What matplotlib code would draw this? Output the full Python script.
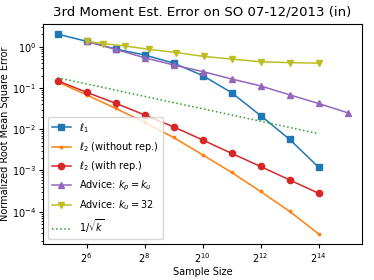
import numpy as np
import matplotlib
matplotlib.use("Agg")
import matplotlib.pyplot as plt

# sample sizes
k_pow = [2**j for j in range(5, 15)]            # 2^5 .. 2^14
k_pow6 = [2**j for j in range(6, 16)]           # 2^6 .. 2^15
k_u32 = [32 + 2**j for j in range(5, 15)]       # 32 + 2^j

err_l1 = [2.02, 1.35, 0.88, 0.63, 0.40, 0.20, 0.077, 0.0214, 0.0057, 0.0012]
err_l2_norep = [0.14, 0.068, 0.032, 0.0147, 0.0063, 0.0024, 0.00090, 0.00031, 0.000102, 0.000029]
err_l2_rep = [0.15, 0.0785, 0.0426, 0.0222, 0.0114, 0.0055, 0.0026, 0.00125, 0.00059, 0.00028]
err_adv_kp = [1.35, 0.86, 0.54, 0.36, 0.25, 0.165, 0.112, 0.068, 0.042, 0.025]
err_adv_32 = [1.35, 1.18, 1.04, 0.86, 0.72, 0.58, 0.50, 0.43, 0.41, 0.40]
ref_sqrt = [0.177, 0.125, 0.0884, 0.0625, 0.0442, 0.03125, 0.0221, 0.0156, 0.0110, 0.0078]

xtick_pows = [6, 8, 10, 12, 14]

plt.rcParams['font.size'] = 7

fig = plt.figure(figsize=(3.74, 2.80), dpi=100)
ax = fig.add_axes([0.115, 0.129, 0.853, 0.785])

ax.plot(k_pow, err_l1, marker='s', ms=4.5, lw=1.1, color='#1f77b4', label=r'$\ell_1$')
ax.plot(k_pow, err_l2_norep, marker='.', ms=3.5, lw=1.1, color='#ff7f0e', label=r'$\ell_2$ (without rep.)')
ax.plot(k_pow, err_l2_rep, marker='o', ms=4.5, lw=1.1, color='#d62728', label=r'$\ell_2$ (with rep.)')
ax.plot(k_pow6, err_adv_kp, marker='^', ms=4.5, lw=1.1, color='#9467bd', label=r'Advice: $k_p = k_u$')
ax.plot(k_u32, err_adv_32, marker='v', ms=4.5, lw=1.1, color='#bcbd22', label=r'Advice: $k_u = 32$')
ax.plot(k_pow, ref_sqrt, ls=':', lw=1.1, color='#2ca02c', label=r'$1/\sqrt{k}$')

ax.set_xscale('log', base=2)
ax.set_yscale('log')
ax.set_xticks([2**p for p in xtick_pows])
ax.set_xticklabels([r'$2^{%d}$' % p for p in xtick_pows])
ax.xaxis.set_minor_locator(matplotlib.ticker.NullLocator())
ax.tick_params(labelsize=7, length=3, pad=2)
ax.tick_params(which='minor', length=1.5)

ax.set_title('3rd Moment Est. Error on SO 07-12/2013 (in)', fontsize=9.5)
ax.set_xlabel('Sample Size', fontsize=7, labelpad=2)
ax.set_ylabel('Normalized Root Mean Square Error', fontsize=7, labelpad=1)
ax.legend(loc='lower left', fontsize=7, labelspacing=0.55)

fig.savefig('out.png', dpi=100)
